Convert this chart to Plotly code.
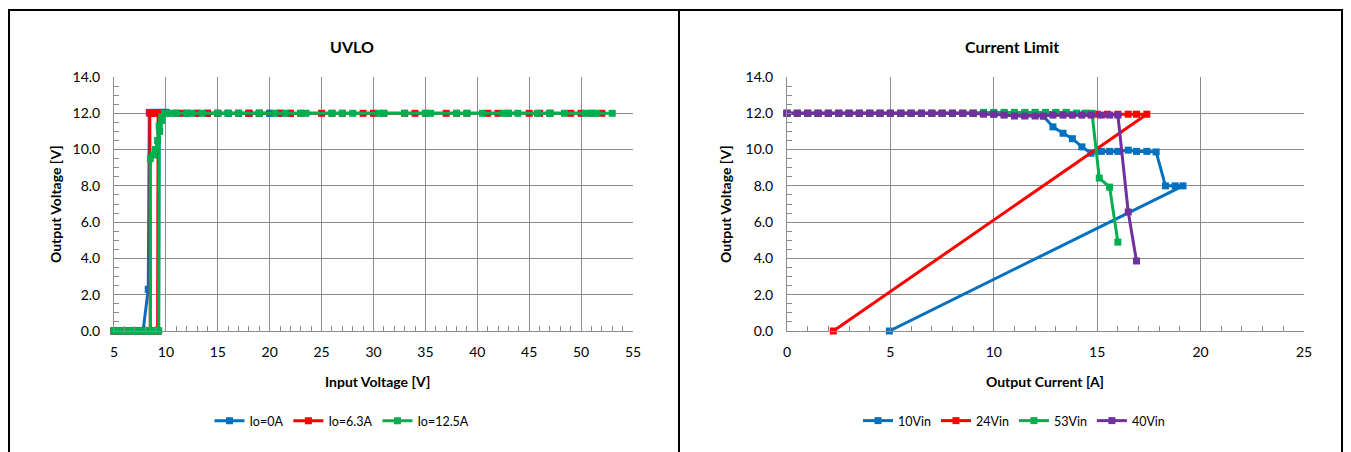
import plotly.graph_objects as go

# ---------------- UVLO data ----------------
io0_x = [5.0, 5.5, 6.0, 6.5, 7.0, 7.5, 8.0, 8.5, 9.0, 9.3, 9.35, 9.6, 10.0, 11.0, 12.0, 13.0, 14.0,
         15.0, 16.0, 17.0, 18.0, 19.0, 20.0, 21.0, 22.0,
         21.0, 20.0, 18.0, 16.0, 14.0, 12.0, 10.0, 9.6, 9.2, 8.8, 8.4, 8.3, 7.8, 7.0, 6.0, 5.0]
io0_y = [0.0, 0.0, 0.0, 0.0, 0.0, 0.0, 0.0, 0.0, 0.0, 0.0, 12.0, 12.05, 12.05, 12.0, 12.0, 12.0, 12.0,
         12.0, 12.0, 12.0, 12.0, 12.0, 12.0, 12.0, 12.0,
         12.0, 12.0, 12.0, 12.0, 12.0, 12.0, 12.05, 12.05, 12.05, 12.05, 12.05, 2.3, 0.0, 0.0, 0.0, 0.0]

io63_x = [5.0, 5.5, 6.0, 6.5, 7.0, 7.5, 8.0, 8.5, 9.0, 9.2, 9.25, 10.0, 11.5, 13.0, 15.0, 17.0, 19.0,
          21.0, 23.0, 25.0, 27.0, 29.0, 31.0, 33.0, 35.0, 37.0, 39.0, 41.0, 43.0, 45.0, 47.0, 49.0, 51.0, 52.0,
          50.0, 46.0, 42.0, 38.0, 34.0, 30.0, 26.0, 22.0, 18.0, 14.0, 11.0, 9.5, 9.0, 8.7, 8.45, 8.5, 7.5, 6.5, 5.5]
io63_y = [0.0, 0.0, 0.0, 0.0, 0.0, 0.0, 0.0, 0.0, 0.0, 0.0, 12.0, 12.0, 12.0, 12.0, 12.0, 12.0, 12.0,
          12.0, 12.0, 12.0, 12.0, 12.0, 12.0, 12.0, 12.0, 12.0, 12.0, 12.0, 12.0, 12.0, 12.0, 12.0, 12.0, 12.0,
          12.0, 12.0, 12.0, 12.0, 12.0, 12.0, 12.0, 12.0, 12.0, 12.0, 12.0, 12.0, 12.0, 12.0, 12.0, 0.0, 0.0, 0.0, 0.0]

io125_x = [5.0, 5.5, 6.0, 6.5, 7.0, 7.5, 8.0, 8.5, 9.0, 9.3, 9.35, 9.6, 9.9, 11.0, 12.0, 13.5, 16.0,
           17.0, 19.0, 20.5, 21.5, 23.5, 26.0, 28.0, 30.5, 33.0, 35.5, 38.0, 40.5, 42.5, 43.9, 45.8,
           47.0, 48.4, 50.4, 51.5, 53.0,
           51.0, 47.0, 43.0, 39.0, 35.0, 31.0, 27.0, 23.0, 19.0, 15.0, 12.5, 10.5, 9.9, 9.6, 9.4, 9.2, 9.0,
           8.8, 8.5, 8.5, 8.0, 7.2, 6.4, 5.6]
io125_y = [0.0, 0.0, 0.0, 0.0, 0.0, 0.0, 0.0, 0.0, 0.0, 0.0, 11.3, 11.8, 12.0, 12.0, 12.0, 12.0, 12.0,
           12.0, 12.0, 12.0, 12.0, 12.0, 12.0, 12.0, 12.0, 12.0, 12.0, 12.0, 12.0, 12.0, 12.0, 12.0,
           12.0, 12.0, 12.0, 12.0, 12.0,
           12.0, 12.0, 12.0, 12.0, 12.0, 12.0, 12.0, 12.0, 12.0, 12.0, 12.0, 12.0, 12.0, 11.6, 11.0, 10.5, 10.0,
           9.7, 9.5, 0.0, 0.0, 0.0, 0.0, 0.0]

# ---------------- Current limit data ----------------
v10_x = [0.0, 0.5, 1.0, 1.5, 2.0, 2.5, 3.0, 3.5, 4.0, 4.5, 5.0, 5.5, 6.0, 6.5, 7.0, 7.5, 8.0, 8.5, 9.0,
         9.5, 10.0, 10.5, 11.0, 11.5, 12.0, 12.4, 12.86, 13.35, 13.8, 14.26, 14.7, 15.2, 15.6, 16.0, 16.5,
         16.9, 17.4, 17.85, 18.3, 18.77, 19.15, 4.95]
v10_y = [12.0, 12.0, 12.0, 12.0, 12.0, 12.0, 12.0, 12.0, 12.0, 12.0, 12.0, 12.0, 12.0, 12.0, 12.0, 12.0,
         12.0, 12.0, 12.0, 12.0, 11.95, 11.95, 11.9, 11.9, 11.9, 11.85, 11.25, 10.9, 10.6, 10.15, 9.8, 9.9,
         9.9, 9.9, 9.97, 9.9, 9.9, 9.87, 8.0, 8.0, 8.0, 0.0]

v24_x = [0.0, 0.5, 1.0, 1.5, 2.0, 2.5, 3.0, 3.5, 4.0, 4.5, 5.0, 5.5, 6.0, 6.5, 7.0, 7.5, 8.0, 8.5, 9.0,
         9.5, 10.0, 10.5, 11.0, 11.5, 12.0, 12.5, 13.0, 13.5, 14.0, 14.5, 15.0, 15.5, 16.0, 16.5, 16.9,
         17.4, 2.24]
v24_y = [12.0, 12.0, 12.0, 12.0, 12.0, 12.0, 12.0, 12.0, 12.0, 12.0, 12.0, 12.0, 12.0, 12.0, 12.0, 12.0,
         12.0, 12.0, 12.0, 12.0, 12.0, 12.0, 12.0, 12.0, 12.0, 12.0, 12.0, 12.0, 12.0, 12.0, 11.95, 11.95,
         11.95, 11.95, 11.95, 11.95, 0.0]

v53_x = [0.0, 0.5, 1.0, 1.5, 2.0, 2.5, 3.0, 3.5, 4.0, 4.5, 5.0, 5.5, 6.0, 6.5, 7.0, 7.5, 8.0, 8.5, 9.0,
         9.5, 10.0, 10.5, 11.0, 11.5, 12.0, 12.5, 13.0, 13.5, 14.0, 14.4, 14.75, 15.1, 15.6, 16.0]
v53_y = [12.0, 12.0, 12.0, 12.0, 12.0, 12.0, 12.0, 12.0, 12.0, 12.0, 12.0, 12.0, 12.0, 12.0, 12.0,
         12.0, 12.0, 12.0, 12.0, 12.05, 12.05, 12.05, 12.05, 12.05, 12.05, 12.05, 12.05, 12.05, 12.0,
         12.0, 12.0, 8.43, 7.93, 4.9]

v40_x = [0.0, 0.5, 1.0, 1.5, 2.0, 2.5, 3.0, 3.5, 4.0, 4.5, 5.0, 5.5, 6.0, 6.5, 7.0, 7.5, 8.0, 8.5, 9.0,
         9.5, 10.0, 10.5, 11.0, 11.5, 12.0, 12.4, 12.86, 13.35, 13.8, 14.26, 14.7, 15.2, 15.6, 16.0, 16.5,
         16.9]
v40_y = [12.0, 12.0, 12.0, 12.0, 12.0, 12.0, 12.0, 12.0, 12.0, 12.0, 12.0, 12.0, 12.0, 12.0, 12.0,
         12.0, 12.0, 12.0, 12.0, 11.95, 11.95, 11.9, 11.85, 11.85, 11.85, 11.85, 11.9, 11.9, 11.9, 11.9,
         11.9, 11.9, 11.9, 11.9, 6.56, 3.86]

y_ticks = [0, 2, 4, 6, 8, 10, 12, 14]
y_tick_labels = ["0.0", "2.0", "4.0", "6.0", "8.0", "10.0", "12.0", "14.0"]

BLUE, RED, GREEN, PURPLE = "#0070C0", "#FF0000", "#00B050", "#7030A0"
FONT = "Lato, 'Open Sans', sans-serif"
OFF = 8                       # default page body margin
W, H = 1351 - OFF, 452 - OFF  # figure fills the rest of the window


def px(x):
    """screen x (pixels in window) -> paper fraction"""
    return (x - OFF) / W


def py(y):
    """screen y (pixels in window) -> paper fraction"""
    return (H - (y - OFF)) / H


fig = go.Figure()


def add(x, y, name, color, xa, ya, legend):
    fig.add_trace(go.Scatter(
        x=x, y=y, name=name, mode="lines+markers", xaxis=xa, yaxis=ya, legend=legend,
        line=dict(color=color, width=3), cliponaxis=False,
        marker=dict(symbol="square", size=7, color=color),
    ))


add(io0_x, io0_y, "Io=0A", BLUE, "x", "y", "legend")
add(io63_x, io63_y, "Io=6.3A", RED, "x", "y", "legend")
add(io125_x, io125_y, "Io=12.5A", GREEN, "x", "y", "legend")
add(v10_x, v10_y, "10Vin", BLUE, "x2", "y2", "legend2")
add(v24_x, v24_y, "24Vin", RED, "x2", "y2", "legend2")
add(v53_x, v53_y, "53Vin", GREEN, "x2", "y2", "legend2")
add(v40_x, v40_y, "40Vin", PURPLE, "x2", "y2", "legend2")

GRID = "#8C8C8C"
ydom = [py(331), py(77)]


def xaxis(domain, rng, dtick, anchor):
    return dict(domain=domain, range=rng, dtick=dtick, tick0=0, anchor=anchor, automargin=False,
                showgrid=True, gridcolor=GRID, gridwidth=1,
                showline=True, linecolor=GRID, linewidth=1, mirror=False,
                ticks="inside", ticklen=5, tickcolor=GRID,
                minor=dict(dtick=1, ticks="inside", ticklen=5, tickcolor=GRID, showgrid=False),
                tickfont=dict(family=FONT, size=14, color="#000"),
                ticklabelstandoff=8, zeroline=False, fixedrange=True)


def yaxis(anchor):
    return dict(domain=ydom, range=[0, 14], tickvals=y_ticks, ticktext=y_tick_labels, anchor=anchor,
                automargin=False,
                showgrid=True, gridcolor=GRID, gridwidth=1,
                showline=True, linecolor=GRID, linewidth=1,
                ticks="inside", ticklen=5, tickcolor=GRID,
                minor=dict(dtick=0.5, ticks="inside", ticklen=5, tickcolor=GRID, showgrid=False),
                tickfont=dict(family=FONT, size=14, color="#000"),
                ticklabelstandoff=10, zeroline=False, fixedrange=True)


fig.update_layout(
    width=W, height=H, margin=dict(l=0, r=0, t=0, b=0, pad=0, autoexpand=False),
    paper_bgcolor="white", plot_bgcolor="white",
    xaxis=xaxis([px(114), px(633)], [5, 55], 5, "y"),
    yaxis=yaxis("x"),
    xaxis2=xaxis([px(787), px(1304)], [0, 25], 5, "y2"),
    yaxis2=yaxis("x2"),
    legend=dict(orientation="h", x=px(342), y=py(421), xanchor="center", yanchor="middle",
                font=dict(family=FONT, size=12.5, color="#000"), itemwidth=30, bgcolor="rgba(0,0,0,0)"),
    legend2=dict(orientation="h", x=px(1014), y=py(421), xanchor="center", yanchor="middle",
                 font=dict(family=FONT, size=12.5, color="#000"), itemwidth=30, bgcolor="rgba(0,0,0,0)"),
    showlegend=True,
)

ann = [
    ("<b>UVLO</b>", 352, 46, 16, 0),
    ("<b>Current Limit</b>", 1012, 46, 16, 0),
    ("<b>Input Voltage [V]</b>", 377, 381, 14, 0),
    ("<b>Output Current [A]</b>", 1045, 381, 14, 0),
    ("<b>Output Voltage [V]</b>", 55, 204, 14, -90),
    ("<b>Output Voltage [V]</b>", 725, 204, 14, -90),
]
for text, ax, ay, size, ang in ann:
    fig.add_annotation(text=text, x=px(ax), y=py(ay), xref="paper", yref="paper",
                       showarrow=False, textangle=ang, xanchor="center", yanchor="middle",
                       font=dict(family=FONT, size=size, color="#000"))

# panel borders
border = dict(color="black", width=2)
fig.add_shape(type="line", xref="paper", yref="paper", x0=px(8), x1=px(1344),
              y0=py(10), y1=py(10), line=border)
for bx in (9, 679, 1342):
    fig.add_shape(type="line", xref="paper", yref="paper", x0=px(bx), x1=px(bx),
                  y0=py(10), y1=py(452), line=border)

fig.write_html("out.html")
